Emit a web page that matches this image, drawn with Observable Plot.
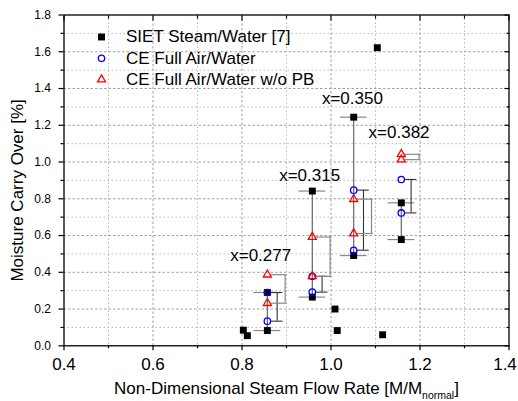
<!DOCTYPE html>
<html><head><meta charset="utf-8">
<script src="https://cdn.jsdelivr.net/npm/d3@7"></script>
<script src="https://cdn.jsdelivr.net/npm/@observablehq/plot@0.6"></script>
<style>
body{margin:0;background:#fff}
#chart{width:518px;height:401px}
</style>
</head><body><div id="chart"></div>
<script>
// ---- data ----
const seriesNames = ["SIET Steam/Water [7]", "CE Full Air/Water", "CE Full Air/Water w/o PB"];

// SIET Steam/Water points
const sietX = [0.803, 0.812, 0.857, 0.857, 0.958, 0.958, 1.009, 1.014, 1.051, 1.051, 1.104, 1.116, 1.158, 1.158];
const sietY = [0.085, 0.055, 0.083, 0.290, 0.265, 0.842, 0.200, 0.083, 0.491, 1.244, 1.622, 0.060, 0.578, 0.778];

// quality groups (x = steam quality)
const groupX = [0.857, 0.958, 1.051, 1.158];
const groupLabels = ["x=0.277", "x=0.315", "x=0.350", "x=0.382"];
const labelX = [0.842, 0.952, 1.048, 1.153];
const labelY = [0.489, 0.929, 1.346, 1.162];

// SIET range per group
const sietLow  = [0.083, 0.265, 0.491, 0.578];
const sietHigh = [0.290, 0.842, 1.244, 0.778];
// CE Full Air/Water
const ceLow  = [0.134, 0.292, 0.520, 0.723];
const ceHigh = [0.290, 0.378, 0.847, 0.905];
// CE Full Air/Water w/o PB
const pbLow  = [0.232, 0.378, 0.611, 1.013];
const pbHigh = [0.387, 0.592, 0.798, 1.042];

const xMajor = [0.4, 0.6, 0.8, 1.0, 1.2, 1.4];
const xMinor = [0.5, 0.7, 0.9, 1.1, 1.3];
const yMajor = [0, 0.2, 0.4, 0.6, 0.8, 1.0, 1.2, 1.4, 1.6, 1.8];
const yMinor = [0.1, 0.3, 0.5, 0.7, 0.9, 1.1, 1.3, 1.5, 1.7];

// ---- tables built from the arrays ----
const siet = sietX.map((x, i) => ({x, y: sietY[i]}));
const pairs = (lo, hi) => groupX.flatMap((x, i) => [{x, y: lo[i]}, {x, y: hi[i]}]);
const ce = pairs(ceLow, ceHigh);
const pb = pairs(pbLow, pbHigh);
const sietRange = groupX.map((x, i) => ({x, y1: sietLow[i], y2: sietHigh[i]}));
const ceRange = groupX.map((x, i) => ({x, y1: ceLow[i], y2: ceHigh[i]}));
const pbRange = groupX.map((x, i) => ({x, y1: pbLow[i], y2: pbHigh[i]}));
const labels = groupLabels.map((t, i) => ({t, x: labelX[i], y: labelY[i]}));

const FONT = "'Liberation Sans', Arial, Helvetica, sans-serif";
const gridMajorX = xMajor.slice(1, -1), gridMajorY = yMajor.slice(1, -1);

const legendMarks = [];
const legendSym = [
  {symbol: "square", fill: "black", stroke: "none", r: 3.9},
  {symbol: "circle", fill: "none", stroke: "#0000ff", r: 3.2},
  {symbol: "triangle", fill: "none", stroke: "#ff0000", r: 3.0}
];
seriesNames.forEach((name, i) => {
  const dy = 22 + i * 21.3;
  legendMarks.push(Plot.dot([name], {frameAnchor: "top-left", dx: 37.5, dy, strokeWidth: 1.3, ...legendSym[i]}));
  legendMarks.push(Plot.text([name], {frameAnchor: "top-left", dx: 62, dy, text: d => d, textAnchor: "start", lineAnchor: "middle", fontSize: 17, fill: "black"}));
});

const plot = Plot.plot({
  width: 518, height: 401,
  marginLeft: 63.5, marginRight: 9.5, marginTop: 14.5, marginBottom: 55.7,
  x: {domain: [0.4, 1.4], axis: null},
  y: {domain: [0, 1.8], axis: null},
  style: {fontFamily: FONT, fontSize: "17px", color: "black", background: "white"},
  marks: [
    // grid
    Plot.ruleX(xMinor, {x: d => d, stroke: "#b8b8b8", strokeDasharray: "1.5,2.5"}),
    Plot.ruleY(yMinor, {y: d => d, stroke: "#b8b8b8", strokeDasharray: "1.5,2.5"}),
    Plot.ruleX(gridMajorX, {x: d => d, stroke: "#a0a0a0", strokeDasharray: "2.5,2"}),
    Plot.ruleY(gridMajorY, {y: d => d, stroke: "#a0a0a0", strokeDasharray: "2.5,2"}),
    // SIET range bars
    Plot.ruleX(sietRange, {x: "x", y1: "y1", y2: "y2", stroke: "#666", strokeWidth: 1.2}),
    Plot.ruleY(siet.filter(d => groupX.includes(d.x)), {y: "y", x1: d => d.x - 0.03, x2: d => d.x + 0.03, stroke: "#888", strokeWidth: 1.2}),
    // CE Full bracket
    Plot.ruleX(ceRange, {x: d => d.x + 0.022, y1: "y1", y2: "y2", stroke: "#333", strokeWidth: 1.1}),
    Plot.ruleY(ce, {y: "y", x1: d => d.x + 0.008, x2: d => d.x + 0.035, stroke: "#333", strokeWidth: 1.1}),
    // CE w/o PB bracket
    Plot.ruleX(pbRange, {x: d => d.x + 0.04, y1: "y1", y2: "y2", stroke: "#888", strokeWidth: 1.2}),
    Plot.ruleY(pb, {y: "y", x1: d => d.x + 0.008, x2: d => d.x + 0.044, stroke: "#888", strokeWidth: 1.2}),
    // points
    Plot.dot(siet, {x: "x", y: "y", symbol: "square", fill: "black", r: 3.9}),
    Plot.dot(ce, {x: "x", y: "y", symbol: "circle", fill: "none", stroke: "#0000ff", strokeWidth: 1.3, r: 3.2}),
    Plot.dot(pb, {x: "x", y: "y", symbol: "triangle", fill: "none", stroke: "#ff0000", strokeWidth: 1.3, r: 3.0}),
    // annotations
    Plot.text(labels, {x: "x", y: "y", text: "t", textAnchor: "middle", lineAnchor: "middle", fontSize: 17, fill: "black"}),
    // axes
    Plot.axisX(xMajor.slice(0, -1), {anchor: "bottom", tickSize: 5, tickPadding: 7, fontSize: 17, tickFormat: d => d.toFixed(1), label: null, strokeWidth: 1.2}),
    Plot.axisX(xMajor.slice(-1), {anchor: "bottom", tickSize: 5, tickFormat: () => "", label: null, strokeWidth: 1.2}),
    Plot.axisX(xMajor.slice(-1), {anchor: "bottom", tickSize: 0, tickPadding: 12, dx: -4, fontSize: 17, tickFormat: d => d.toFixed(1), label: null, strokeWidth: 0}),
    Plot.axisX(xMinor, {anchor: "bottom", tickSize: 3, tickFormat: () => "", label: null, strokeWidth: 1.2}),
    Plot.axisX(xMajor, {anchor: "top", tickSize: -5, tickFormat: () => "", label: null, strokeWidth: 1.2}),
    Plot.axisX(xMinor, {anchor: "top", tickSize: -3, tickFormat: () => "", label: null, strokeWidth: 1.2}),
    Plot.axisY(yMajor, {anchor: "left", tickSize: 5, tickPadding: 8, fontSize: 12, tickFormat: d => d.toFixed(1), label: null, strokeWidth: 1.2}),
    Plot.axisY(yMinor, {anchor: "left", tickSize: 3, tickFormat: () => "", label: null, strokeWidth: 1.2}),
    Plot.axisY(yMajor, {anchor: "right", tickSize: -5, tickFormat: () => "", label: null, strokeWidth: 1.2}),
    Plot.axisY(yMinor, {anchor: "right", tickSize: -3, tickFormat: () => "", label: null, strokeWidth: 1.2}),
    Plot.frame({stroke: "black", strokeWidth: 1.3}),
    // axis titles
    Plot.text(["Non-Dimensional Steam Flow Rate [M/M"], {frameAnchor: "bottom", dy: 42.7, text: d => d, textAnchor: "middle", lineAnchor: "middle", fontSize: 17, fill: "black"}),
    Plot.text(["Moisture Carry Over [%]"], {frameAnchor: "left", dx: -46, dy: 10, rotate: -90, text: d => d, textAnchor: "middle", lineAnchor: "middle", fontSize: 17, fill: "black"}),
    ...legendMarks
  ]
});
document.getElementById("chart").appendChild(plot);

// subscript in x-axis title
const svgNS = "http://www.w3.org/2000/svg";
plot.querySelectorAll("text").forEach(t => {
  if (t.textContent === "Non-Dimensional Steam Flow Rate [M/M") {
    const sub = document.createElementNS(svgNS, "tspan");
    sub.setAttribute("dy", "5");
    sub.setAttribute("font-size", "10.5");
    sub.textContent = "normal";
    const close = document.createElementNS(svgNS, "tspan");
    close.setAttribute("dy", "-5");
    close.textContent = "]";
    t.appendChild(sub);
    t.appendChild(close);
  }
});
</script>
</body></html>
